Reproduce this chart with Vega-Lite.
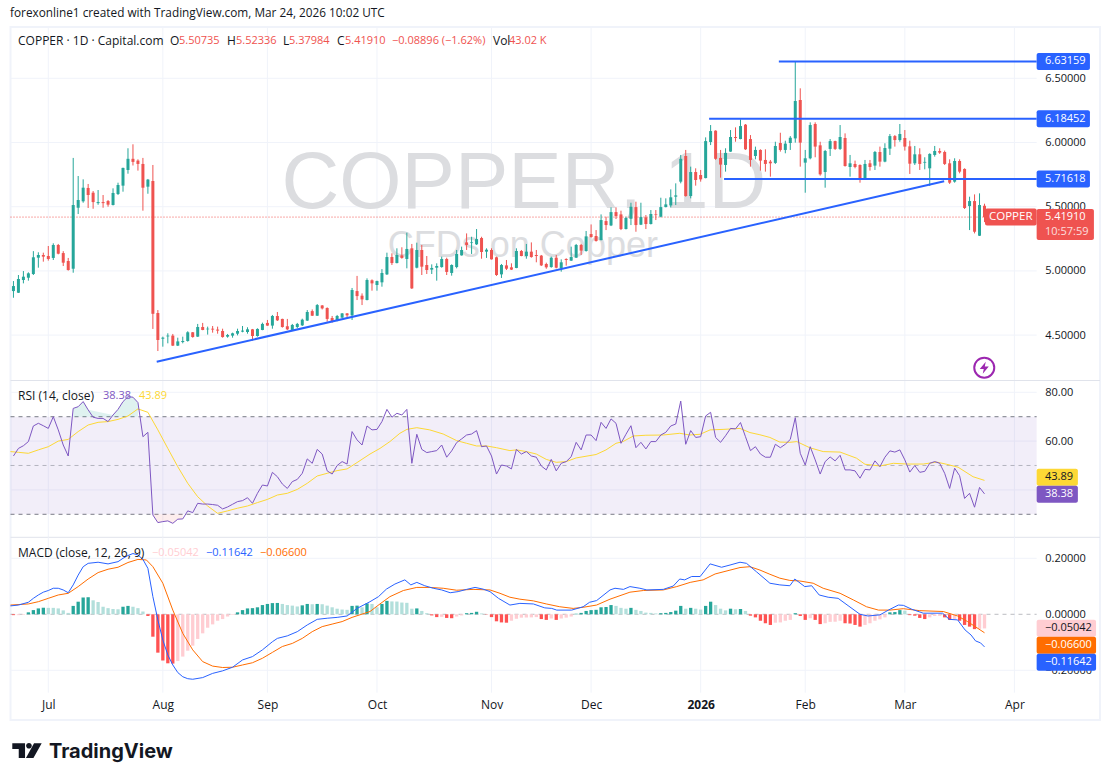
{
"$schema":"https://vega.github.io/schema/vega-lite/v6.json",
"width":1110,"height":781,"padding":0,"autosize":{"type":"none"},
"background":"#ffffff",
"view":{"stroke":null},
"config":{"font":"Open Sans","text":{"font":"Open Sans","fontSize":11,"align":"left","baseline":"middle","color":"#131722"}},
"data":{"values":[{}]},
"datasets":{
"months":[{"i":0},{"i":23},{"i":44},{"i":66},{"i":89},{"i":109},{"i":131},{"i":152},{"i":172},{"i":194}],
"bars":[
{"i":-7,"open":4.843,"high":4.921,"low":4.791,"close":4.882,"rsi":53.9,"hist":-0.003},
{"i":-6,"open":4.83,"high":4.968,"low":4.828,"close":4.937,"rsi":57.0,"hist":-0.003},
{"i":-5,"open":4.929,"high":4.999,"low":4.903,"close":4.955,"rsi":58.1,"hist":-0.002},
{"i":-4,"open":4.947,"high":4.989,"low":4.924,"close":4.981,"rsi":59.8,"hist":0.007},
{"i":-3,"open":4.976,"high":5.154,"low":4.968,"close":5.106,"rsi":66.2,"hist":0.015},
{"i":-2,"open":5.103,"high":5.145,"low":5.025,"close":5.124,"rsi":67.3,"hist":0.021},
{"i":-1,"open":5.124,"high":5.142,"low":5.072,"close":5.111,"rsi":66.3,"hist":0.0235},
{"i":0,"open":5.116,"high":5.194,"low":5.08,"close":5.093,"rsi":65.2,"hist":0.023},
{"i":1,"open":5.101,"high":5.215,"low":5.085,"close":5.202,"rsi":70.0,"hist":0.023},
{"i":2,"open":5.202,"high":5.21,"low":5.129,"close":5.134,"rsi":64.6,"hist":0.021},
{"i":3,"open":5.139,"high":5.154,"low":5.038,"close":5.064,"rsi":58.4,"hist":0.014},
{"i":4,"open":5.077,"high":5.101,"low":5.002,"close":5.007,"rsi":53.9,"hist":0.005},
{"i":5,"open":5.017,"high":5.88,"low":4.986,"close":5.513,"rsi":73.4,"hist":0.03},
{"i":6,"open":5.492,"high":5.739,"low":5.443,"close":5.552,"rsi":74.1,"hist":0.045},
{"i":7,"open":5.542,"high":5.713,"low":5.531,"close":5.648,"rsi":76.2,"hist":0.06},
{"i":8,"open":5.646,"high":5.677,"low":5.49,"close":5.591,"rsi":72.8,"hist":0.061},
{"i":9,"open":5.609,"high":5.622,"low":5.484,"close":5.536,"rsi":69.8,"hist":0.05},
{"i":10,"open":5.528,"high":5.63,"low":5.515,"close":5.536,"rsi":69.3,"hist":0.044},
{"i":11,"open":5.536,"high":5.591,"low":5.492,"close":5.528,"rsi":69.3,"hist":0.027},
{"i":12,"open":5.544,"high":5.552,"low":5.5,"close":5.516,"rsi":68.0,"hist":0.022},
{"i":13,"open":5.513,"high":5.643,"low":5.51,"close":5.607,"rsi":70.7,"hist":0.019},
{"i":14,"open":5.599,"high":5.687,"low":5.591,"close":5.669,"rsi":73.0,"hist":0.018},
{"i":15,"open":5.664,"high":5.804,"low":5.617,"close":5.802,"rsi":76.2,"hist":0.027},
{"i":16,"open":5.786,"high":5.955,"low":5.757,"close":5.873,"rsi":78.2,"hist":0.03},
{"i":17,"open":5.873,"high":5.986,"low":5.821,"close":5.849,"rsi":78.0,"hist":0.027},
{"i":18,"open":5.859,"high":5.869,"low":5.781,"close":5.833,"rsi":75.8,"hist":0.022},
{"i":19,"open":5.833,"high":5.88,"low":5.469,"close":5.648,"rsi":61.8,"hist":0.01},
{"i":20,"open":5.656,"high":5.716,"low":5.601,"close":5.711,"rsi":63.6,"hist":-0.006},
{"i":21,"open":5.7,"high":5.825,"low":4.548,"close":4.666,"rsi":29.7,"hist":-0.08},
{"i":22,"open":4.672,"high":4.695,"low":4.376,"close":4.462,"rsi":26.6,"hist":-0.137},
{"i":23,"open":4.472,"high":4.488,"low":4.41,"close":4.48,"rsi":27.0,"hist":-0.165},
{"i":24,"open":4.49,"high":4.514,"low":4.436,"close":4.496,"rsi":27.3,"hist":-0.175},
{"i":25,"open":4.496,"high":4.509,"low":4.415,"close":4.418,"rsi":26.3,"hist":-0.176},
{"i":26,"open":4.418,"high":4.48,"low":4.415,"close":4.451,"rsi":28.0,"hist":-0.167},
{"i":27,"open":4.446,"high":4.488,"low":4.436,"close":4.454,"rsi":28.1,"hist":-0.151},
{"i":28,"open":4.454,"high":4.53,"low":4.449,"close":4.522,"rsi":31.4,"hist":-0.13},
{"i":29,"open":4.522,"high":4.524,"low":4.48,"close":4.485,"rsi":30.7,"hist":-0.112},
{"i":30,"open":4.488,"high":4.587,"low":4.486,"close":4.563,"rsi":34.5,"hist":-0.088},
{"i":31,"open":4.563,"high":4.595,"low":4.538,"close":4.54,"rsi":34.2,"hist":-0.068},
{"i":32,"open":4.545,"high":4.566,"low":4.504,"close":4.55,"rsi":34.2,"hist":-0.048},
{"i":33,"open":4.55,"high":4.571,"low":4.519,"close":4.543,"rsi":34.0,"hist":-0.036},
{"i":34,"open":4.543,"high":4.566,"low":4.511,"close":4.535,"rsi":33.7,"hist":-0.023},
{"i":35,"open":4.532,"high":4.55,"low":4.48,"close":4.485,"rsi":32.2,"hist":-0.017},
{"i":36,"open":4.488,"high":4.509,"low":4.48,"close":4.501,"rsi":33.0,"hist":-0.008},
{"i":37,"open":4.496,"high":4.519,"low":4.48,"close":4.514,"rsi":34.1,"hist":-0.002},
{"i":38,"open":4.511,"high":4.55,"low":4.498,"close":4.532,"rsi":35.2,"hist":0.007},
{"i":39,"open":4.527,"high":4.571,"low":4.522,"close":4.535,"rsi":35.6,"hist":0.015},
{"i":40,"open":4.524,"high":4.561,"low":4.511,"close":4.545,"rsi":36.8,"hist":0.021},
{"i":41,"open":4.545,"high":4.548,"low":4.457,"close":4.493,"rsi":34.5,"hist":0.022},
{"i":42,"open":4.493,"high":4.553,"low":4.488,"close":4.548,"rsi":38.6,"hist":0.025},
{"i":43,"open":4.54,"high":4.597,"low":4.538,"close":4.587,"rsi":42.0,"hist":0.033},
{"i":44,"open":4.595,"high":4.618,"low":4.572,"close":4.574,"rsi":41.6,"hist":0.037},
{"i":45,"open":4.574,"high":4.657,"low":4.55,"close":4.649,"rsi":47.2,"hist":0.04},
{"i":46,"open":4.649,"high":4.68,"low":4.61,"close":4.615,"rsi":45.4,"hist":0.0405},
{"i":47,"open":4.626,"high":4.628,"low":4.558,"close":4.563,"rsi":42.4,"hist":0.037},
{"i":48,"open":4.569,"high":4.626,"low":4.54,"close":4.545,"rsi":40.6,"hist":0.033},
{"i":49,"open":4.54,"high":4.587,"low":4.535,"close":4.579,"rsi":43.4,"hist":0.031},
{"i":50,"open":4.563,"high":4.595,"low":4.553,"close":4.587,"rsi":44.3,"hist":0.028},
{"i":51,"open":4.576,"high":4.628,"low":4.571,"close":4.62,"rsi":46.8,"hist":0.032},
{"i":52,"open":4.613,"high":4.695,"low":4.61,"close":4.68,"rsi":52.7,"hist":0.037},
{"i":53,"open":4.687,"high":4.7,"low":4.649,"close":4.651,"rsi":50.9,"hist":0.036},
{"i":54,"open":4.651,"high":4.742,"low":4.649,"close":4.734,"rsi":56.6,"hist":0.037},
{"i":55,"open":4.731,"high":4.734,"low":4.7,"close":4.708,"rsi":54.7,"hist":0.036},
{"i":56,"open":4.711,"high":4.716,"low":4.605,"close":4.626,"rsi":47.8,"hist":0.031},
{"i":57,"open":4.633,"high":4.649,"low":4.597,"close":4.608,"rsi":46.5,"hist":0.025},
{"i":58,"open":4.61,"high":4.657,"low":4.608,"close":4.649,"rsi":50.0,"hist":0.02},
{"i":59,"open":4.636,"high":4.672,"low":4.634,"close":4.669,"rsi":51.6,"hist":0.017},
{"i":60,"open":4.669,"high":4.672,"low":4.638,"close":4.654,"rsi":50.6,"hist":0.016},
{"i":61,"open":4.654,"high":4.867,"low":4.618,"close":4.851,"rsi":63.9,"hist":0.03},
{"i":62,"open":4.843,"high":4.961,"low":4.773,"close":4.804,"rsi":60.5,"hist":0.031},
{"i":63,"open":4.807,"high":4.825,"low":4.734,"close":4.778,"rsi":58.4,"hist":0.025},
{"i":64,"open":4.773,"high":4.942,"low":4.771,"close":4.929,"rsi":66.2,"hist":0.039},
{"i":65,"open":4.927,"high":4.934,"low":4.846,"close":4.903,"rsi":64.6,"hist":0.037},
{"i":66,"open":4.89,"high":4.924,"low":4.846,"close":4.921,"rsi":64.8,"hist":0.025},
{"i":67,"open":4.911,"high":5.014,"low":4.877,"close":4.984,"rsi":68.0,"hist":0.037},
{"i":68,"open":4.973,"high":5.142,"low":4.968,"close":5.108,"rsi":73.0,"hist":0.048},
{"i":69,"open":5.108,"high":5.137,"low":5.046,"close":5.061,"rsi":69.8,"hist":0.046},
{"i":70,"open":5.061,"high":5.176,"low":5.059,"close":5.124,"rsi":71.4,"hist":0.0455},
{"i":71,"open":5.121,"high":5.184,"low":5.095,"close":5.101,"rsi":70.7,"hist":0.042},
{"i":72,"open":5.093,"high":5.298,"low":5.02,"close":5.171,"rsi":73.0,"hist":0.041},
{"i":73,"open":5.176,"high":5.21,"low":4.859,"close":4.864,"rsi":50.9,"hist":0.02},
{"i":74,"open":5.025,"high":5.22,"low":5.02,"close":5.163,"rsi":62.8,"hist":0.021},
{"i":75,"open":5.163,"high":5.202,"low":4.968,"close":5.033,"rsi":56.6,"hist":0.012},
{"i":76,"open":5.046,"high":5.116,"low":4.976,"close":5.007,"rsi":55.3,"hist":0.004},
{"i":77,"open":5.01,"high":5.051,"low":4.976,"close":5.023,"rsi":55.7,"hist":-0.004},
{"i":78,"open":5.025,"high":5.059,"low":4.924,"close":5.038,"rsi":56.1,"hist":-0.01},
{"i":79,"open":5.03,"high":5.111,"low":5.025,"close":5.093,"rsi":58.4,"hist":-0.009},
{"i":80,"open":5.093,"high":5.103,"low":4.968,"close":4.992,"rsi":53.4,"hist":-0.013},
{"i":81,"open":4.984,"high":5.051,"low":4.963,"close":5.046,"rsi":56.0,"hist":-0.014},
{"i":82,"open":5.03,"high":5.163,"low":5.02,"close":5.132,"rsi":59.4,"hist":-0.008},
{"i":83,"open":5.121,"high":5.189,"low":5.119,"close":5.163,"rsi":60.9,"hist":-0.004},
{"i":84,"open":5.222,"high":5.292,"low":5.163,"close":5.202,"rsi":62.5,"hist":0.004},
{"i":85,"open":5.217,"high":5.266,"low":5.132,"close":5.222,"rsi":62.9,"hist":0.005},
{"i":86,"open":5.207,"high":5.326,"low":5.202,"close":5.248,"rsi":64.3,"hist":0.009},
{"i":87,"open":5.256,"high":5.266,"low":5.095,"close":5.147,"rsi":57.7,"hist":0.003},
{"i":88,"open":5.15,"high":5.176,"low":5.101,"close":5.165,"rsi":58.0,"hist":-0.001},
{"i":89,"open":5.163,"high":5.176,"low":5.088,"close":5.09,"rsi":53.9,"hist":-0.01},
{"i":90,"open":5.106,"high":5.111,"low":4.961,"close":4.968,"rsi":46.5,"hist":-0.025},
{"i":91,"open":4.973,"high":5.054,"low":4.945,"close":5.046,"rsi":50.2,"hist":-0.029},
{"i":92,"open":5.043,"high":5.085,"low":5.007,"close":5.017,"rsi":49.8,"hist":-0.03},
{"i":93,"open":5.028,"high":5.059,"low":5.007,"close":5.01,"rsi":48.6,"hist":-0.023},
{"i":94,"open":5.023,"high":5.176,"low":5.021,"close":5.155,"rsi":56.6,"hist":-0.016},
{"i":95,"open":5.155,"high":5.163,"low":5.114,"close":5.116,"rsi":54.7,"hist":-0.012},
{"i":96,"open":5.116,"high":5.21,"low":5.095,"close":5.15,"rsi":55.7,"hist":-0.0115},
{"i":97,"open":5.15,"high":5.222,"low":5.103,"close":5.108,"rsi":53.9,"hist":-0.011},
{"i":98,"open":5.124,"high":5.163,"low":5.067,"close":5.116,"rsi":53.4,"hist":-0.01},
{"i":99,"open":5.119,"high":5.124,"low":5.038,"close":5.043,"rsi":49.8,"hist":-0.017},
{"i":100,"open":5.054,"high":5.064,"low":5.017,"close":5.028,"rsi":48.2,"hist":-0.02},
{"i":101,"open":5.03,"high":5.111,"low":5.025,"close":5.103,"rsi":52.5,"hist":-0.015},
{"i":102,"open":5.103,"high":5.124,"low":5.02,"close":5.025,"rsi":47.8,"hist":-0.02},
{"i":103,"open":5.02,"high":5.09,"low":4.994,"close":5.067,"rsi":50.9,"hist":-0.015},
{"i":104,"open":5.093,"high":5.098,"low":5.041,"close":5.085,"rsi":51.6,"hist":-0.012},
{"i":105,"open":5.08,"high":5.189,"low":5.078,"close":5.108,"rsi":53.6,"hist":-0.008},
{"i":106,"open":5.103,"high":5.21,"low":5.101,"close":5.202,"rsi":59.5,"hist":0.002},
{"i":107,"open":5.202,"high":5.21,"low":5.124,"close":5.158,"rsi":56.4,"hist":0.005},
{"i":108,"open":5.155,"high":5.311,"low":5.15,"close":5.269,"rsi":62.5,"hist":0.012},
{"i":109,"open":5.287,"high":5.362,"low":5.259,"close":5.264,"rsi":62.5,"hist":0.015},
{"i":110,"open":5.272,"high":5.318,"low":5.228,"close":5.233,"rsi":60.2,"hist":0.016},
{"i":111,"open":5.24,"high":5.44,"low":5.238,"close":5.396,"rsi":67.7,"hist":0.025},
{"i":112,"open":5.388,"high":5.422,"low":5.318,"close":5.357,"rsi":65.2,"hist":0.026},
{"i":113,"open":5.354,"high":5.495,"low":5.349,"close":5.458,"rsi":69.1,"hist":0.033},
{"i":114,"open":5.458,"high":5.495,"low":5.404,"close":5.427,"rsi":67.3,"hist":0.03},
{"i":115,"open":5.44,"high":5.469,"low":5.318,"close":5.326,"rsi":59.1,"hist":0.023},
{"i":116,"open":5.326,"high":5.422,"low":5.323,"close":5.412,"rsi":62.8,"hist":0.02},
{"i":117,"open":5.406,"high":5.531,"low":5.357,"close":5.5,"rsi":66.3,"hist":0.023},
{"i":118,"open":5.497,"high":5.539,"low":5.305,"close":5.357,"rsi":57.3,"hist":0.016},
{"i":119,"open":5.36,"high":5.531,"low":5.357,"close":5.419,"rsi":59.5,"hist":0.012},
{"i":120,"open":5.417,"high":5.435,"low":5.326,"close":5.365,"rsi":56.8,"hist":0.006},
{"i":121,"open":5.365,"high":5.474,"low":5.362,"close":5.443,"rsi":59.8,"hist":0.005},
{"i":122,"open":5.44,"high":5.474,"low":5.396,"close":5.435,"rsi":59.8,"hist":0.003},
{"i":123,"open":5.422,"high":5.57,"low":5.417,"close":5.497,"rsi":62.5,"hist":0.004},
{"i":124,"open":5.497,"high":5.565,"low":5.495,"close":5.518,"rsi":63.6,"hist":0.005},
{"i":125,"open":5.51,"high":5.635,"low":5.495,"close":5.573,"rsi":66.2,"hist":0.008},
{"i":126,"open":5.578,"high":5.682,"low":5.513,"close":5.588,"rsi":67.0,"hist":0.013},
{"i":127,"open":5.695,"high":5.903,"low":5.682,"close":5.873,"rsi":76.4,"hist":0.03},
{"i":128,"open":5.895,"high":5.942,"low":5.578,"close":5.583,"rsi":58.7,"hist":0.02},
{"i":129,"open":5.583,"high":5.812,"low":5.565,"close":5.77,"rsi":64.3,"hist":0.023},
{"i":130,"open":5.77,"high":5.799,"low":5.664,"close":5.708,"rsi":61.5,"hist":0.02},
{"i":131,"open":5.747,"high":5.786,"low":5.695,"close":5.713,"rsi":61.8,"hist":0.017},
{"i":132,"open":5.723,"high":6.04,"low":5.721,"close":6.011,"rsi":70.3,"hist":0.03},
{"i":133,"open":6.004,"high":6.136,"low":5.98,"close":6.089,"rsi":71.8,"hist":0.045},
{"i":134,"open":6.092,"high":6.095,"low":5.865,"close":5.873,"rsi":61.5,"hist":0.033},
{"i":135,"open":5.88,"high":5.942,"low":5.726,"close":5.828,"rsi":59.5,"hist":0.02},
{"i":136,"open":5.825,"high":5.955,"low":5.773,"close":5.919,"rsi":62.2,"hist":0.014},
{"i":137,"open":5.929,"high":6.097,"low":5.927,"close":6.043,"rsi":65.2,"hist":0.02},
{"i":138,"open":6.043,"high":6.118,"low":6.006,"close":6.035,"rsi":65.0,"hist":0.018},
{"i":139,"open":6.027,"high":6.18,"low":6.025,"close":6.128,"rsi":67.6,"hist":0.019},
{"i":140,"open":6.139,"high":6.144,"low":5.942,"close":5.947,"rsi":61.8,"hist":0.012},
{"i":141,"open":6.027,"high":6.058,"low":5.812,"close":5.864,"rsi":56.1,"hist":-0.005},
{"i":142,"open":5.895,"high":5.968,"low":5.869,"close":5.942,"rsi":57.7,"hist":-0.011},
{"i":143,"open":5.942,"high":5.947,"low":5.781,"close":5.859,"rsi":54.7,"hist":-0.023},
{"i":144,"open":5.864,"high":5.947,"low":5.773,"close":5.833,"rsi":53.4,"hist":-0.032},
{"i":145,"open":5.851,"high":5.864,"low":5.734,"close":5.838,"rsi":53.4,"hist":-0.038},
{"i":146,"open":5.841,"high":6.006,"low":5.833,"close":5.973,"rsi":58.7,"hist":-0.03},
{"i":147,"open":5.996,"high":6.076,"low":5.929,"close":5.942,"rsi":57.3,"hist":-0.029},
{"i":148,"open":5.942,"high":6.014,"low":5.916,"close":5.991,"rsi":58.7,"hist":-0.023},
{"i":149,"open":5.996,"high":6.05,"low":5.942,"close":6.037,"rsi":60.7,"hist":-0.02},
{"i":150,"open":6.032,"high":6.632,"low":5.999,"close":6.323,"rsi":69.6,"hist":0.004},
{"i":151,"open":6.331,"high":6.422,"low":5.812,"close":5.999,"rsi":55.0,"hist":-0.006},
{"i":152,"open":5.843,"high":5.942,"low":5.609,"close":5.877,"rsi":50.2,"hist":-0.02},
{"i":153,"open":5.877,"high":6.157,"low":5.869,"close":6.136,"rsi":57.7,"hist":-0.014},
{"i":154,"open":6.144,"high":6.157,"low":5.885,"close":5.968,"rsi":52.3,"hist":-0.02},
{"i":155,"open":5.978,"high":6.006,"low":5.742,"close":5.752,"rsi":46.5,"hist":-0.035},
{"i":156,"open":5.77,"high":5.942,"low":5.648,"close":5.934,"rsi":51.6,"hist":-0.032},
{"i":157,"open":5.95,"high":6.027,"low":5.895,"close":6.011,"rsi":53.5,"hist":-0.027},
{"i":158,"open":6.011,"high":6.014,"low":5.942,"close":5.95,"rsi":51.9,"hist":-0.0265},
{"i":159,"open":5.95,"high":6.136,"low":5.942,"close":6.043,"rsi":54.2,"hist":-0.023},
{"i":160,"open":6.035,"high":6.071,"low":5.812,"close":5.817,"rsi":48.2,"hist":-0.032},
{"i":161,"open":5.809,"high":5.903,"low":5.734,"close":5.838,"rsi":48.2,"hist":-0.033},
{"i":162,"open":5.833,"high":5.859,"low":5.799,"close":5.809,"rsi":47.8,"hist":-0.038},
{"i":163,"open":5.825,"high":5.83,"low":5.687,"close":5.716,"rsi":44.8,"hist":-0.044},
{"i":164,"open":5.723,"high":5.864,"low":5.716,"close":5.833,"rsi":48.4,"hist":-0.038},
{"i":165,"open":5.838,"high":5.864,"low":5.781,"close":5.809,"rsi":48.2,"hist":-0.032},
{"i":166,"open":5.82,"high":5.934,"low":5.786,"close":5.926,"rsi":51.9,"hist":-0.023},
{"i":167,"open":5.926,"high":5.968,"low":5.812,"close":5.851,"rsi":49.5,"hist":-0.018},
{"i":168,"open":5.851,"high":5.994,"low":5.846,"close":5.957,"rsi":53.4,"hist":-0.011},
{"i":169,"open":5.952,"high":6.066,"low":5.903,"close":6.05,"rsi":56.0,"hist":0.007},
{"i":170,"open":6.05,"high":6.058,"low":5.968,"close":6.019,"rsi":55.5,"hist":0.008},
{"i":171,"open":6.019,"high":6.144,"low":6.006,"close":6.066,"rsi":56.4,"hist":0.015},
{"i":172,"open":6.035,"high":6.097,"low":5.937,"close":5.968,"rsi":52.3,"hist":0.013},
{"i":173,"open":5.97,"high":6.014,"low":5.755,"close":5.835,"rsi":47.3,"hist":-0.003},
{"i":174,"open":5.838,"high":5.973,"low":5.825,"close":5.908,"rsi":50.0,"hist":-0.005},
{"i":175,"open":5.908,"high":5.955,"low":5.786,"close":5.833,"rsi":47.2,"hist":-0.013},
{"i":176,"open":5.843,"high":5.885,"low":5.791,"close":5.849,"rsi":47.6,"hist":-0.017},
{"i":177,"open":5.799,"high":5.916,"low":5.661,"close":5.911,"rsi":50.9,"hist":-0.011},
{"i":178,"open":5.903,"high":5.973,"low":5.89,"close":5.934,"rsi":51.6,"hist":-0.006},
{"i":179,"open":5.934,"high":5.955,"low":5.911,"close":5.921,"rsi":50.9,"hist":-0.0055},
{"i":180,"open":5.926,"high":5.937,"low":5.825,"close":5.833,"rsi":46.8,"hist":-0.011},
{"i":181,"open":5.838,"high":5.869,"low":5.677,"close":5.687,"rsi":40.6,"hist":-0.02},
{"i":182,"open":5.695,"high":5.877,"low":5.687,"close":5.856,"rsi":48.9,"hist":-0.018},
{"i":183,"open":5.856,"high":5.869,"low":5.76,"close":5.773,"rsi":45.8,"hist":-0.023},
{"i":184,"open":5.794,"high":5.799,"low":5.482,"close":5.49,"rsi":36.5,"hist":-0.038},
{"i":185,"open":5.505,"high":5.578,"low":5.318,"close":5.544,"rsi":38.6,"hist":-0.044},
{"i":186,"open":5.544,"high":5.596,"low":5.292,"close":5.305,"rsi":32.9,"hist":-0.053},
{"i":187,"open":5.274,"high":5.604,"low":5.272,"close":5.513,"rsi":41.0,"hist":-0.052},
{"i":188,"open":5.50735,"high":5.52336,"low":5.37984,"close":5.4191,"rsi":38.38,"hist":-0.05042}
],
"rsi_ma":[
{"i":-7.6,"v":55.7},{"i":-6,"v":55.4},{"i":-4,"v":55.0},{"i":-2,"v":56.4},{"i":0,"v":57.7},{"i":2,"v":60.0},{"i":4,"v":60.7},{"i":6,"v":63.9},{"i":8,"v":66.6},{"i":10,"v":67.7},{"i":12,"v":68.0},{"i":14,"v":68.9},{"i":16,"v":70.3},{"i":18,"v":73.2},{"i":20,"v":71.8},{"i":22,"v":64.6},{"i":24,"v":57.0},{"i":26,"v":49.5},{"i":28,"v":42.7},{"i":30,"v":37.2},{"i":32,"v":33.4},{"i":34,"v":30.4},{"i":36,"v":31.4},{"i":38,"v":32.5},{"i":40,"v":33.4},{"i":42,"v":34.8},{"i":44,"v":36.1},{"i":46,"v":37.9},{"i":48,"v":38.6},{"i":50,"v":40.2},{"i":52,"v":42.7},{"i":54,"v":45.7},{"i":56,"v":46.8},{"i":58,"v":47.9},{"i":60,"v":48.6},{"i":62,"v":51.2},{"i":64.6,"v":54.7},{"i":66.6,"v":57.0},{"i":68.6,"v":59.8},{"i":70.6,"v":63.2},{"i":72,"v":64.8},{"i":74,"v":65.5},{"i":76.6,"v":64.6},{"i":79.3,"v":62.9},{"i":82,"v":60.2},{"i":84,"v":59.1},{"i":86,"v":58.0},{"i":88,"v":58.0},{"i":90,"v":57.3},{"i":92.7,"v":56.1},{"i":94,"v":56.4},{"i":96,"v":55.7},{"i":98,"v":54.7},{"i":100,"v":52.5},{"i":102,"v":51.3},{"i":104,"v":51.6},{"i":106,"v":53.1},{"i":110,"v":54.5},{"i":112,"v":56.4},{"i":114,"v":59.1},{"i":115.4,"v":59.8},{"i":117.5,"v":62.1},{"i":120,"v":62.4},{"i":123.5,"v":62.5},{"i":126.8,"v":63.2},{"i":128.8,"v":62.5},{"i":130.9,"v":62.8},{"i":132.9,"v":64.6},{"i":135.5,"v":64.8},{"i":138.9,"v":65.2},{"i":140.9,"v":63.5},{"i":142.9,"v":62.6},{"i":144.9,"v":61.5},{"i":146.9,"v":59.6},{"i":148.9,"v":59.5},{"i":150.3,"v":59.8},{"i":152.9,"v":57.3},{"i":155.6,"v":55.7},{"i":159,"v":55.5},{"i":162.3,"v":53.0},{"i":164,"v":50.5},{"i":167,"v":49.8},{"i":169.7,"v":50.9},{"i":172.4,"v":50.6},{"i":175.7,"v":50.6},{"i":178.4,"v":51.4},{"i":180.4,"v":50.5},{"i":182.7,"v":49.3},{"i":185.7,"v":45.4},{"i":188,"v":43.89}
],
"macd_line":[
{"i":-7.6,"v":0.03},{"i":-6,"v":0.033},{"i":-4,"v":0.043},{"i":-3,"v":0.057},{"i":-2,"v":0.069},{"i":-1,"v":0.079},{"i":0,"v":0.085},{"i":1,"v":0.093},{"i":2,"v":0.093},{"i":3,"v":0.087},{"i":4,"v":0.077},{"i":5,"v":0.105},{"i":6,"v":0.14},{"i":7,"v":0.17},{"i":8,"v":0.182},{"i":10,"v":0.186},{"i":12,"v":0.18},{"i":14,"v":0.188},{"i":15,"v":0.2},{"i":16,"v":0.21},{"i":17,"v":0.217},{"i":18,"v":0.212},{"i":19,"v":0.196},{"i":20,"v":0.164},{"i":21,"v":0.063},{"i":22,"v":-0.02},{"i":23,"v":-0.092},{"i":24,"v":-0.145},{"i":25,"v":-0.181},{"i":26,"v":-0.208},{"i":27,"v":-0.223},{"i":28,"v":-0.23},{"i":29,"v":-0.232},{"i":31,"v":-0.226},{"i":33,"v":-0.211},{"i":35,"v":-0.202},{"i":37,"v":-0.189},{"i":39,"v":-0.163},{"i":41,"v":-0.151},{"i":43,"v":-0.127},{"i":45,"v":-0.098},{"i":46,"v":-0.086},{"i":48,"v":-0.077},{"i":50,"v":-0.062},{"i":52,"v":-0.038},{"i":54,"v":-0.018},{"i":56,"v":-0.014},{"i":58,"v":-0.011},{"i":60,"v":-0.006},{"i":62,"v":0.021},{"i":64.6,"v":0.045},{"i":66.3,"v":0.063},{"i":67.9,"v":0.09},{"i":69.6,"v":0.108},{"i":71.6,"v":0.123},{"i":72.8,"v":0.105},{"i":74,"v":0.114},{"i":75.6,"v":0.102},{"i":77.3,"v":0.093},{"i":79,"v":0.087},{"i":80.7,"v":0.077},{"i":82.3,"v":0.081},{"i":84,"v":0.089},{"i":85.7,"v":0.096},{"i":87.3,"v":0.09},{"i":88.7,"v":0.081},{"i":90.4,"v":0.057},{"i":92.7,"v":0.033},{"i":94.7,"v":0.039},{"i":97.4,"v":0.037},{"i":99.7,"v":0.023},{"i":101.1,"v":0.021},{"i":102.1,"v":0.015},{"i":105.1,"v":0.015},{"i":107.4,"v":0.027},{"i":108.7,"v":0.043},{"i":110.1,"v":0.049},{"i":112.8,"v":0.087},{"i":113.8,"v":0.093},{"i":115.5,"v":0.089},{"i":116.8,"v":0.099},{"i":118.8,"v":0.093},{"i":120.2,"v":0.087},{"i":123.5,"v":0.089},{"i":125.5,"v":0.101},{"i":126.8,"v":0.126},{"i":127.8,"v":0.123},{"i":129.2,"v":0.135},{"i":130.9,"v":0.135},{"i":132.9,"v":0.18},{"i":135.2,"v":0.168},{"i":136.9,"v":0.176},{"i":138.9,"v":0.186},{"i":140.2,"v":0.182},{"i":142.2,"v":0.152},{"i":144.9,"v":0.111},{"i":146.9,"v":0.105},{"i":148.9,"v":0.102},{"i":149.9,"v":0.126},{"i":151.9,"v":0.099},{"i":153.3,"v":0.102},{"i":154.8,"v":0.069},{"i":156.6,"v":0.061},{"i":158.6,"v":0.057},{"i":160.6,"v":0.031},{"i":163,"v":0.0},{"i":164.6,"v":-0.006},{"i":167,"v":-0.002},{"i":168.7,"v":0.015},{"i":170.7,"v":0.033},{"i":171.7,"v":0.032},{"i":173.4,"v":0.018},{"i":175.7,"v":0.004},{"i":179.6,"v":0.004},{"i":180.9,"v":-0.018},{"i":182.6,"v":-0.02},{"i":184.1,"v":-0.056},{"i":185.3,"v":-0.074},{"i":186.2,"v":-0.095},{"i":187.2,"v":-0.102},{"i":188,"v":-0.11642}
],
"signal_line":[
{"i":-7.6,"v":0.033},{"i":-4,"v":0.037},{"i":-2,"v":0.045},{"i":0,"v":0.057},{"i":2,"v":0.069},{"i":4,"v":0.075},{"i":6,"v":0.099},{"i":8,"v":0.126},{"i":10,"v":0.149},{"i":12,"v":0.161},{"i":14,"v":0.168},{"i":16,"v":0.185},{"i":18,"v":0.196},{"i":19.7,"v":0.194},{"i":21,"v":0.17},{"i":23,"v":0.111},{"i":25,"v":0.015},{"i":27,"v":-0.068},{"i":29,"v":-0.127},{"i":31,"v":-0.169},{"i":33,"v":-0.185},{"i":35,"v":-0.19},{"i":37,"v":-0.189},{"i":39,"v":-0.181},{"i":41,"v":-0.173},{"i":43,"v":-0.157},{"i":45,"v":-0.136},{"i":47,"v":-0.115},{"i":49,"v":-0.104},{"i":51,"v":-0.086},{"i":53,"v":-0.062},{"i":55,"v":-0.044},{"i":57,"v":-0.035},{"i":59,"v":-0.026},{"i":61,"v":-0.011},{"i":64.6,"v":0.01},{"i":66.6,"v":0.037},{"i":68.6,"v":0.063},{"i":71.3,"v":0.085},{"i":74,"v":0.096},{"i":76.6,"v":0.096},{"i":79.3,"v":0.093},{"i":82,"v":0.086},{"i":85.3,"v":0.089},{"i":88.7,"v":0.087},{"i":90.7,"v":0.075},{"i":92.7,"v":0.061},{"i":94.7,"v":0.054},{"i":97.4,"v":0.048},{"i":100,"v":0.037},{"i":102.7,"v":0.027},{"i":105.4,"v":0.021},{"i":107.4,"v":0.025},{"i":110.1,"v":0.033},{"i":112.8,"v":0.054},{"i":116.8,"v":0.079},{"i":119.5,"v":0.085},{"i":123.5,"v":0.087},{"i":126.2,"v":0.099},{"i":128.9,"v":0.114},{"i":131.5,"v":0.123},{"i":133.9,"v":0.144},{"i":138.9,"v":0.167},{"i":140.9,"v":0.17},{"i":142.9,"v":0.158},{"i":144.9,"v":0.143},{"i":146.9,"v":0.129},{"i":148.9,"v":0.121},{"i":150.9,"v":0.119},{"i":153.6,"v":0.111},{"i":155.6,"v":0.093},{"i":159,"v":0.075},{"i":161.7,"v":0.051},{"i":164.3,"v":0.027},{"i":166.7,"v":0.015},{"i":169,"v":0.015},{"i":171.7,"v":0.02},{"i":175,"v":0.013},{"i":179.7,"v":0.01},{"i":182.6,"v":-0.006},{"i":184.6,"v":-0.026},{"i":188,"v":-0.066}
]
},
"layer":[
{"layer":[
{"data":{"values":[{"level":6.5},{"level":6},{"level":5.5},{"level":5},{"level":4.5}]},
"mark":{"type":"rule","color":"#F0F3FA"},
"encoding":{"x":{"datum":-7.59,"scale":{"domain":[-9.7,213.2],"range":[0,1110],"nice":false,"zero":false},"axis":{"orient":"bottom","offset":-88.3,"values":[0,23,44,66,89,109,131,152,172,194],"labelExpr":"{'0':'Jul','23':'Aug','44':'Sep','66':'Oct','89':'Nov','109':'Dec','131':'2026','152':'Feb','172':'Mar','194':'Apr'}[datum.value]","labelFontWeight":{"condition":{"test":"datum.value==131","value":"bold"},"value":"normal"},"labelFontSize":12,"labelColor":"#131722","labelPadding":7,"labelFlush":false,"labelBound":false,"labelOverlap":false,"grid":false,"domain":false,"ticks":false,"title":null}},"x2":{"datum":198.47},
"y":{"field":"level","type":"quantitative","scale":{"domain":[4.1465,6.8995],"range":[380.5,27],"nice":false,"zero":false},"axis":{"orient":"right","offset":-73.3,"values":[6.5,6,5.5,5,4.5],"format":".5f","labelFontSize":11,"labelColor":"#131722","labelPadding":8,"labelFlush":false,"labelBound":false,"labelOverlap":false,"grid":false,"domain":false,"ticks":false,"title":null}}}},
{"data":{"name":"months"},"mark":{"type":"rule","color":"#F0F3FA"},"encoding":{"x":{"field":"i","type":"quantitative"},"y":{"datum":6.8995},"y2":{"datum":4.1465}}},
{"mark":{"type":"rect","filled":false,"stroke":"#F0F3FA","strokeWidth":2},"encoding":{"x":{"datum":-7.59},"x2":{"datum":211.2},"y":{"datum":6.8995},"y2":{"datum":1.502}}},
{"mark":{"type":"text","align":"center","baseline":"alphabetic","font":"Liberation Sans","fontSize":80,"color":"#DCDDE0"},"encoding":{"x":{"datum":95.5},"y":{"datum":5.49},"text":{"value":"COPPER, 1D"}}},
{"mark":{"type":"text","align":"center","baseline":"alphabetic","font":"Liberation Sans","fontSize":36,"color":"#DCDDE0"},"encoding":{"x":{"datum":95.3},"y":{"datum":5.108},"text":{"value":"CFDs on Copper"}}},
{"data":{"values":[{"level":5.4191}]},"mark":{"type":"rule","color":"#EF5350","strokeDash":[1,2]},"encoding":{"x":{"datum":-7.59},"x2":{"datum":198.47},"y":{"field":"level","type":"quantitative"}}},
{"data":{"name":"bars"},
"encoding":{"x":{"field":"i","type":"quantitative"},"color":{"condition":{"test":"datum.close>=datum.open","value":"#26A69A"},"value":"#EF5350"}},
"layer":[
{"mark":{"type":"rule","strokeWidth":1},"encoding":{"y":{"field":"low","type":"quantitative"},"y2":{"field":"high"}}},
{"mark":{"type":"rule","strokeWidth":3},"encoding":{"y":{"field":"open","type":"quantitative"},"y2":{"field":"close"}}}
]},
{"data":{"values":[{"start":146.7,"level":6.63159},{"start":132.7,"level":6.18452},{"start":135.7,"level":5.71618}]},"mark":{"type":"rule","color":"#2962FF","strokeWidth":2},"encoding":{"x":{"field":"start","type":"quantitative"},"x2":{"datum":198.47},"y":{"field":"level","type":"quantitative"}}},
{"data":{"values":[{"i":21.77,"price":4.293},{"i":179.9,"price":5.698}]},"mark":{"type":"line","color":"#2962FF","strokeWidth":2},"encoding":{"x":{"field":"i","type":"quantitative"},"y":{"field":"price","type":"quantitative"}}},
{"data":{"values":[{"level":6.63159},{"level":6.18452},{"level":5.71618}]},
"encoding":{"y":{"field":"level","type":"quantitative"}},
"layer":[
{"mark":{"type":"rect","height":17,"color":"#2962FF","cornerRadius":2},"encoding":{"x":{"datum":198.47},"x2":{"datum":209.17}}},
{"mark":{"type":"text","color":"#ffffff"},"encoding":{"x":{"datum":200.14},"text":{"field":"level","format":".5f"}}}
]},
{"mark":{"type":"rect","color":"#EF5350","cornerRadius":2},"encoding":{"x":{"datum":198.47},"x2":{"datum":209.97},"y":{"datum":5.482},"y2":{"datum":5.2406}}},
{"mark":{"type":"rect","color":"#EF5350","height":17,"cornerRadius":2},"encoding":{"x":{"datum":188.1},"x2":{"datum":198.47},"y":{"datum":5.4191}}},
{"mark":{"type":"text","color":"#ffffff","fontSize":11.5},"encoding":{"x":{"datum":188.9},"y":{"datum":5.4191},"text":{"value":"COPPER"}}},
{"mark":{"type":"text","color":"#ffffff"},"encoding":{"x":{"datum":200.14},"y":{"datum":5.4191},"text":{"value":"5.41910"}}},
{"mark":{"type":"text","color":"#ffffff","opacity":0.8},"encoding":{"x":{"datum":200.14},"y":{"datum":5.305},"text":{"value":"10:57:59"}}},
{"mark":{"type":"point","shape":"circle","size":400,"filled":false,"color":"#9C27B0","strokeWidth":2,"opacity":1},"encoding":{"x":{"datum":187.95},"y":{"datum":4.246}}},
{"mark":{"type":"point","shape":"M0.15,-0.6 L-0.45,0.12 L-0.05,0.12 L-0.15,0.6 L0.45,-0.12 L0.05,-0.12Z","size":400,"filled":true,"color":"#9C27B0","opacity":1},"encoding":{"x":{"datum":187.95},"y":{"datum":4.246}}},
{"mark":{"type":"text","fontSize":11.8},"encoding":{"x":{"datum":-7.69},"y":{"datum":7.0086},"text":{"value":"forexonline1 created with TradingView.com, Mar 24, 2026 10:02 UTC"}}},
{"mark":{"type":"text","fontSize":12},"encoding":{"x":{"datum":-6.08},"y":{"datum":6.7905},"text":{"value":"COPPER · 1D · Capital.com"}}},
{"mark":{"type":"text","fontSize":12},"encoding":{"x":{"datum":24.44},"y":{"datum":6.7905},"text":{"value":"O"}}},
{"mark":{"type":"text","color":"#EF5350"},"encoding":{"x":{"datum":26.25},"y":{"datum":6.7905},"text":{"value":"5.50735"}}},
{"mark":{"type":"text","fontSize":12},"encoding":{"x":{"datum":35.88},"y":{"datum":6.7905},"text":{"value":"H"}}},
{"mark":{"type":"text","color":"#EF5350"},"encoding":{"x":{"datum":37.69},"y":{"datum":6.7905},"text":{"value":"5.52336"}}},
{"mark":{"type":"text","fontSize":12},"encoding":{"x":{"datum":47.13},"y":{"datum":6.7905},"text":{"value":"L"}}},
{"mark":{"type":"text","color":"#EF5350"},"encoding":{"x":{"datum":48.33},"y":{"datum":6.7905},"text":{"value":"5.37984"}}},
{"mark":{"type":"text","fontSize":12},"encoding":{"x":{"datum":57.97},"y":{"datum":6.7905},"text":{"value":"C"}}},
{"mark":{"type":"text","color":"#EF5350"},"encoding":{"x":{"datum":59.57},"y":{"datum":6.7905},"text":{"value":"5.41910"}}},
{"mark":{"type":"text","color":"#EF5350"},"encoding":{"x":{"datum":69.02},"y":{"datum":6.7905},"text":{"value":"−0.08896 (−1.62%)"}}},
{"mark":{"type":"text","fontSize":12},"encoding":{"x":{"datum":89.3},"y":{"datum":6.7905},"text":{"value":"Vol"}}},
{"mark":{"type":"text","color":"#EF5350"},"encoding":{"x":{"datum":92.5},"y":{"datum":6.7905},"text":{"value":"43.02 K"}}}
]},
{"layer":[
{"data":{"values":[{"level":80},{"level":60},{"level":40}]},"mark":{"type":"rule","color":"#F0F3FA"},
"encoding":{"x":{"datum":-7.59},"x2":{"datum":198.47},
"y":{"field":"level","type":"quantitative","scale":{"domain":[20.57,84.84],"range":[537.3,380.5],"nice":false,"zero":false},"axis":{"orient":"right","offset":-73.3,"values":[80,60],"format":".2f","labelFontSize":11,"labelColor":"#131722","labelPadding":8,"labelFlush":false,"labelBound":false,"labelOverlap":false,"grid":false,"domain":false,"ticks":false,"title":null}}}},
{"data":{"name":"months"},"mark":{"type":"rule","color":"#F0F3FA"},"encoding":{"x":{"field":"i","type":"quantitative"},"y":{"datum":84.84},"y2":{"datum":20.57}}},
{"mark":{"type":"rect","color":"#7E57C2","opacity":0.1},"encoding":{"x":{"datum":-7.59},"x2":{"datum":198.47},"y":{"datum":70},"y2":{"datum":30}}},
{"data":{"values":[{"level":70},{"level":30}]},"mark":{"type":"rule","color":"#787B86","strokeDash":[4,4]},"encoding":{"x":{"datum":-7.59},"x2":{"datum":198.47},"y":{"field":"level","type":"quantitative"}}},
{"data":{"values":[{"level":50}]},"mark":{"type":"rule","color":"#787B86","opacity":0.5,"strokeDash":[4,4]},"encoding":{"x":{"datum":-7.59},"x2":{"datum":198.47},"y":{"field":"level","type":"quantitative"}}},
{"data":{"name":"bars"},"transform":[{"filter":"datum.i>=5 && datum.i<=18 && datum.rsi>=70"}],"mark":{"type":"area","color":"#26A69A","opacity":0.15},"encoding":{"x":{"field":"i","type":"quantitative"},"y":{"field":"rsi","type":"quantitative"},"y2":{"datum":70}}},
{"data":{"name":"bars"},"transform":[{"filter":"datum.i>=21 && datum.i<=27 && datum.rsi<=30"}],"mark":{"type":"area","color":"#EF5350","opacity":0.1},"encoding":{"x":{"field":"i","type":"quantitative"},"y":{"field":"rsi","type":"quantitative"},"y2":{"datum":30}}},
{"data":{"name":"rsi_ma"},"mark":{"type":"line","color":"#FDD835","strokeWidth":1},"encoding":{"x":{"field":"i","type":"quantitative"},"y":{"field":"v","type":"quantitative"}}},
{"data":{"name":"bars"},"mark":{"type":"line","color":"#7E57C2","strokeWidth":1},"encoding":{"x":{"field":"i","type":"quantitative"},"y":{"field":"rsi","type":"quantitative"}}},
{"data":{"values":[{"level":84.84},{"level":20.57}]},"mark":{"type":"rule","color":"#E0E3EB"},"encoding":{"x":{"datum":-7.59},"x2":{"datum":211.2},"y":{"field":"level","type":"quantitative"}}},
{"mark":{"type":"rect","height":17,"color":"#FDD835","cornerRadius":2},"encoding":{"x":{"datum":198.47},"x2":{"datum":206.75},"y":{"datum":45.14}}},
{"mark":{"type":"text"},"encoding":{"x":{"datum":200.14},"y":{"datum":45.14},"text":{"value":"43.89"}}},
{"mark":{"type":"rect","height":17,"color":"#7E57C2","cornerRadius":2},"encoding":{"x":{"datum":198.47},"x2":{"datum":206.75},"y":{"datum":38.2}}},
{"mark":{"type":"text","color":"#ffffff"},"encoding":{"x":{"datum":200.14},"y":{"datum":38.2},"text":{"value":"38.38"}}},
{"mark":{"type":"text","fontSize":12},"encoding":{"x":{"datum":-6.08},"y":{"datum":78.48},"text":{"value":"RSI (14, close)"}}},
{"mark":{"type":"text","color":"#7E57C2"},"encoding":{"x":{"datum":10.98},"y":{"datum":78.48},"text":{"value":"38.38"}}},
{"mark":{"type":"text","color":"#FDD835"},"encoding":{"x":{"datum":18.2},"y":{"datum":78.48},"text":{"value":"43.89"}}}
]},
{"layer":[
{"data":{"values":[{"level":0.2},{"level":-0.2}]},"mark":{"type":"rule","color":"#F0F3FA"},
"encoding":{"x":{"datum":-7.59},"x2":{"datum":198.47},
"y":{"field":"level","type":"quantitative","scale":{"domain":[-0.28,0.275],"range":[692.7,537.3],"nice":false,"zero":false},"axis":{"orient":"right","offset":-73.3,"values":[0.2,0,-0.2],"format":".5f","labelFontSize":11,"labelColor":"#131722","labelPadding":8,"labelFlush":false,"labelBound":false,"labelOverlap":false,"grid":false,"domain":false,"ticks":false,"title":null}}}},
{"data":{"name":"months"},"mark":{"type":"rule","color":"#F0F3FA"},"encoding":{"x":{"field":"i","type":"quantitative"},"y":{"datum":0.275},"y2":{"datum":-0.28}}},
{"data":{"values":[{"level":0}]},"mark":{"type":"rule","color":"#787B86","opacity":0.5,"strokeDash":[4,4]},"encoding":{"x":{"datum":-7.59},"x2":{"datum":198.47},"y":{"field":"level","type":"quantitative"}}},
{"data":{"name":"bars"},"transform":[{"window":[{"op":"lag","field":"hist","as":"prev"}],"sort":[{"field":"i"}]}],
"mark":{"type":"rule","strokeWidth":3.3},
"encoding":{"x":{"field":"i","type":"quantitative"},"y":{"field":"hist","type":"quantitative"},"y2":{"datum":0},
"color":{"condition":[{"test":"datum.hist>=0 && datum.hist>datum.prev","value":"#26A69A"},{"test":"datum.hist>=0","value":"#B2DFDB"},{"test":"datum.hist>=datum.prev","value":"#FFCDD2"}],"value":"#FF5252"}}},
{"data":{"name":"signal_line"},"mark":{"type":"line","color":"#FF6D00","strokeWidth":1},"encoding":{"x":{"field":"i","type":"quantitative"},"y":{"field":"v","type":"quantitative"}}},
{"data":{"name":"macd_line"},"mark":{"type":"line","color":"#2962FF","strokeWidth":1},"encoding":{"x":{"field":"i","type":"quantitative"},"y":{"field":"v","type":"quantitative"}}},
{"mark":{"type":"rect","height":17,"color":"#FFCDD2","cornerRadius":2},"encoding":{"x":{"datum":198.47},"x2":{"datum":210.4},"y":{"datum":-0.05}}},
{"mark":{"type":"text"},"encoding":{"x":{"datum":200.14},"y":{"datum":-0.05},"text":{"value":"−0.05042"}}},
{"mark":{"type":"rect","height":17,"color":"#FF6D00","cornerRadius":2},"encoding":{"x":{"datum":198.47},"x2":{"datum":210.4},"y":{"datum":-0.1107}}},
{"mark":{"type":"text","color":"#ffffff"},"encoding":{"x":{"datum":200.14},"y":{"datum":-0.1107},"text":{"value":"−0.06600"}}},
{"mark":{"type":"rect","height":17,"color":"#2962FF","cornerRadius":2},"encoding":{"x":{"datum":198.47},"x2":{"datum":210.4},"y":{"datum":-0.1714}}},
{"mark":{"type":"text","color":"#ffffff"},"encoding":{"x":{"datum":200.14},"y":{"datum":-0.1714},"text":{"value":"−0.11642"}}},
{"mark":{"type":"text","fontSize":12},"encoding":{"x":{"datum":-6.08},"y":{"datum":0.2189},"text":{"value":"MACD (close, 12, 26, 9)"}}},
{"mark":{"type":"text","color":"#FFCDD2"},"encoding":{"x":{"datum":20.82},"y":{"datum":0.2189},"text":{"value":"−0.05042"}}},
{"mark":{"type":"text","color":"#2962FF"},"encoding":{"x":{"datum":31.66},"y":{"datum":0.2189},"text":{"value":"−0.11642"}}},
{"mark":{"type":"text","color":"#FF6D00"},"encoding":{"x":{"datum":42.5},"y":{"datum":0.2189},"text":{"value":"−0.06600"}}},
{"mark":{"type":"point","shape":"M-0.98,-0.49 H-0.13 V0.49 H-0.55 V-0.11 H-0.98Z M-0.06,-0.33 a0.19,0.19 0 1,0 0.38,0 a0.19,0.19 0 1,0 -0.38,0Z M0.47,-0.49 L0.98,-0.49 L0.43,0.49 L-0.07,0.49Z","size":900,"filled":true,"color":"#131722","opacity":1},"encoding":{"x":{"datum":-4.28},"y":{"datum":-0.4871}}},
{"mark":{"type":"text","font":"Inter","fontWeight":700,"fontSize":20},"encoding":{"x":{"datum":0.14},"y":{"datum":-0.4917},"text":{"value":"TradingView"}}}
]}
],
"resolve":{"scale":{"y":"independent"},"axis":{"y":"independent"}}
}
